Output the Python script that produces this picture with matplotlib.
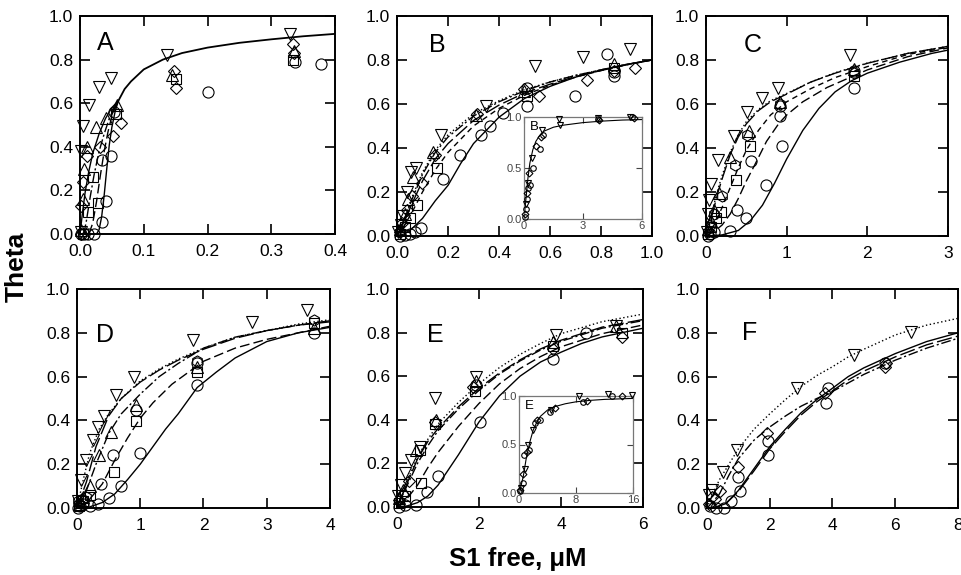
import matplotlib
matplotlib.use("Agg")
import matplotlib.pyplot as plt

plt.rcParams['font.family'] = ['Liberation Sans', 'DejaVu Sans']

# ---------------- panel A ----------------
A_circ = ([0.002, 0.006, 0.012, 0.022, 0.034, 0.040, 0.035, 0.048, 0.054, 0.201, 0.337, 0.378],
          [0.0, 0.0, 0.0, 0.0, 0.055, 0.15, 0.34, 0.36, 0.56, 0.652, 0.79, 0.78])
A_sq = ([0.004, 0.013, 0.028, 0.021, 0.057, 0.150, 0.334],
        [0.0, 0.10, 0.14, 0.26, 0.55, 0.71, 0.80])
A_dia = ([0.001, 0.002, 0.004, 0.011, 0.031, 0.052, 0.065, 0.148, 0.150, 0.334, 0.335],
         [0.0, 0.13, 0.24, 0.36, 0.40, 0.45, 0.51, 0.75, 0.67, 0.87, 0.83])
A_up = ([0.001, 0.004, 0.006, 0.011, 0.025, 0.041, 0.058, 0.145, 0.336],
        [0.02, 0.16, 0.30, 0.40, 0.49, 0.53, 0.59, 0.73, 0.84])
A_dn = ([0.001, 0.002, 0.005, 0.0145, 0.030, 0.048, 0.137, 0.329],
        [0.01, 0.38, 0.495, 0.59, 0.675, 0.717, 0.82, 0.916])

A_main = ([0.05, 0.06, 0.07, 0.08, 0.1, 0.13, 0.16, 0.2, 0.25, 0.3, 0.35, 0.4],
          [0.55, 0.61, 0.665, 0.70, 0.755, 0.80, 0.83, 0.855, 0.877, 0.893, 0.907, 0.918])
A_solid = ([0.026, 0.03, 0.034, 0.038, 0.042, 0.046, 0.05, 0.055, 0.06],
           [0.0, 0.02, 0.08, 0.18, 0.30, 0.41, 0.49, 0.56, 0.61])
A_dash = ([0.014, 0.02, 0.026, 0.032, 0.038, 0.044, 0.05, 0.056, 0.06],
          [0.0, 0.05, 0.15, 0.27, 0.38, 0.47, 0.54, 0.59, 0.61])
A_dashdot = ([0.006, 0.01, 0.016, 0.022, 0.03, 0.038, 0.046, 0.054, 0.06],
             [0.0, 0.06, 0.17, 0.27, 0.38, 0.46, 0.53, 0.58, 0.61])
A_left = ([0.0, 0.004, 0.008, 0.014, 0.02, 0.03, 0.04, 0.05, 0.06],
          [0.0, 0.10, 0.19, 0.29, 0.37, 0.46, 0.53, 0.58, 0.61])

# ---------------- panel B ----------------
B_circ = ([0.01, 0.03, 0.05, 0.07, 0.096, 0.18, 0.246, 0.33, 0.364, 0.417, 0.51, 0.51, 0.70, 0.823, 0.85, 0.85],
          [0.0, 0.005, 0.01, 0.02, 0.038, 0.258, 0.367, 0.46, 0.50, 0.56, 0.59, 0.674, 0.636, 0.826, 0.727, 0.745])
B_sq = ([0.01, 0.03, 0.05, 0.08, 0.155, 0.51, 0.85],
        [0.01, 0.04, 0.08, 0.14, 0.31, 0.636, 0.765])
B_dia = ([0.01, 0.02, 0.04, 0.06, 0.10, 0.148, 0.312, 0.50, 0.555, 0.745, 0.85, 0.935],
         [0.02, 0.06, 0.12, 0.18, 0.24, 0.37, 0.553, 0.67, 0.636, 0.71, 0.75, 0.765])
B_up = ([0.01, 0.03, 0.045, 0.063, 0.14, 0.31, 0.50, 0.85],
        [0.03, 0.10, 0.17, 0.27, 0.38, 0.55, 0.66, 0.78])
B_dn = ([0.005, 0.015, 0.024, 0.04, 0.056, 0.076, 0.174, 0.35, 0.54, 0.73, 0.915],
        [0.02, 0.05, 0.09, 0.20, 0.29, 0.31, 0.46, 0.59, 0.773, 0.815, 0.85])

B_x = [0, 0.03, 0.06, 0.1, 0.15, 0.2, 0.3, 0.4, 0.5, 0.6, 0.7, 0.8, 0.9, 1.0]
B_dotted = [0, 0.085, 0.18, 0.29, 0.39, 0.46, 0.555, 0.615, 0.665, 0.70, 0.73, 0.755, 0.78, 0.80]
B_dashdot = [0, 0.08, 0.17, 0.28, 0.38, 0.45, 0.545, 0.61, 0.66, 0.70, 0.73, 0.755, 0.78, 0.80]
B_longdash = [0, 0.07, 0.15, 0.25, 0.35, 0.42, 0.525, 0.595, 0.65, 0.69, 0.725, 0.752, 0.778, 0.80]
B_dash = [0, 0.05, 0.11, 0.2, 0.30, 0.38, 0.50, 0.58, 0.64, 0.685, 0.722, 0.752, 0.778, 0.80]
B_solid_x = [0, 0.03, 0.06, 0.1, 0.15, 0.2, 0.25, 0.3, 0.35, 0.4, 0.5, 0.6, 0.7, 0.8, 0.9, 1.0]
B_solid = [0, 0.01, 0.035, 0.08, 0.16, 0.23, 0.33, 0.42, 0.48, 0.54, 0.625, 0.68, 0.722, 0.755, 0.78, 0.80]

# inset of B
Bi_curve = ([0, 0.05, 0.1, 0.2, 0.3, 0.45, 0.6, 0.8, 1.0, 1.5, 2, 3, 4, 5, 6],
            [0, 0.1, 0.2, 0.4, 0.55, 0.68, 0.76, 0.82, 0.86, 0.9, 0.92, 0.945, 0.96, 0.97, 0.975])
Bi_circ = ([0.05, 0.1, 0.15, 0.2, 0.3, 0.47, 0.8, 0.95, 3.78, 5.5],
           [0.02, 0.1, 0.2, 0.3, 0.33, 0.5, 0.69, 0.82, 0.98, 1.0])
Bi_tri = ([0.1, 0.2, 0.4, 0.9, 1.77, 1.82, 3.78, 5.4],
          [0.15, 0.35, 0.6, 0.87, 0.98, 0.92, 0.99, 1.0])
Bi_dia = ([0.05, 0.15, 0.25, 0.6, 0.85, 3.8, 5.6],
          [0.05, 0.25, 0.45, 0.72, 0.8, 0.97, 0.99])

# ---------------- panel C ----------------
C_circ = ([0.02, 0.05, 0.1, 0.3, 0.38, 0.49, 0.56, 0.75, 0.92, 0.92, 0.94, 1.84, 1.84],
          [0.0, 0.01, 0.02, 0.023, 0.119, 0.08, 0.339, 0.233, 0.544, 0.59, 0.407, 0.673, 0.75])
C_sq = ([0.02, 0.06, 0.12, 0.185, 0.37, 0.55, 1.84],
        [0.01, 0.04, 0.08, 0.108, 0.255, 0.41, 0.726])
C_dia = ([0.02, 0.05, 0.1, 0.2, 0.36, 0.51, 0.92, 1.84],
         [0.02, 0.05, 0.10, 0.18, 0.324, 0.46, 0.60, 0.74])
C_up = ([0.02, 0.06, 0.1, 0.156, 0.3, 0.53, 0.92, 1.84],
        [0.03, 0.07, 0.12, 0.195, 0.36, 0.476, 0.61, 0.757])
C_dn = ([0.01, 0.02, 0.033, 0.062, 0.144, 0.35, 0.51, 0.69, 0.89, 1.79],
        [0.02, 0.1, 0.164, 0.236, 0.346, 0.456, 0.562, 0.628, 0.673, 0.825])

C_solid = ([0, 0.2, 0.4, 0.55, 0.7, 0.85, 1.0, 1.2, 1.4, 1.6, 1.8, 2.0, 2.4, 2.8, 3.0],
           [0, 0.005, 0.025, 0.07, 0.14, 0.24, 0.35, 0.48, 0.58, 0.655, 0.705, 0.74, 0.79, 0.83, 0.845])
C_dash = ([0, 0.1, 0.2, 0.3, 0.4, 0.5, 0.6, 0.75, 0.9, 1.0, 1.2, 1.5, 2.0, 2.5, 3.0],
          [0, 0.02, 0.05, 0.1, 0.17, 0.25, 0.32, 0.43, 0.51, 0.55, 0.61, 0.675, 0.755, 0.815, 0.855])
C_dash2 = ([0, 0.1, 0.2, 0.3, 0.4, 0.5, 0.65, 0.8, 1.0, 1.3, 1.6, 2.0, 2.5, 3.0],
           [0, 0.05, 0.13, 0.22, 0.31, 0.39, 0.48, 0.55, 0.61, 0.67, 0.72, 0.77, 0.825, 0.858])
C_up_x = [0, 0.05, 0.1, 0.15, 0.2, 0.3, 0.4, 0.5, 0.65, 0.8, 1.0, 1.3, 1.6, 2.0, 2.5, 3.0]
C_longdash = [0, 0.06, 0.13, 0.2, 0.26, 0.37, 0.45, 0.51, 0.57, 0.61, 0.645, 0.70, 0.74, 0.785, 0.83, 0.862]
C_dotted = [0, 0.07, 0.145, 0.215, 0.275, 0.38, 0.46, 0.52, 0.575, 0.615, 0.648, 0.70, 0.742, 0.786, 0.83, 0.862]

# ---------------- panel D ----------------
D_circ = ([0.02, 0.05, 0.1, 0.2, 0.33, 0.38, 0.51, 0.57, 0.69, 0.94, 1.0, 1.89, 1.89, 3.74],
          [0.0, 0.01, 0.02, 0.01, 0.02, 0.11, 0.046, 0.24, 0.1, 0.447, 0.25, 0.56, 0.66, 0.80])
D_sq = ([0.03, 0.1, 0.2, 0.58, 0.94, 1.89, 3.74],
        [0.01, 0.03, 0.06, 0.165, 0.398, 0.62, 0.843])
D_up = ([0.03, 0.1, 0.2, 0.34, 0.53, 0.93, 1.89, 3.74],
        [0.02, 0.05, 0.1, 0.24, 0.348, 0.47, 0.645, 0.82])
D_dia = ([0.02, 0.08, 0.15, 1.89, 3.74],
         [0.03, 0.04, 0.05, 0.67, 0.86])
D_dn = ([0.02, 0.07, 0.14, 0.25, 0.33, 0.42, 0.61, 0.9, 1.84, 2.76, 3.63],
        [0.03, 0.126, 0.22, 0.31, 0.37, 0.42, 0.515, 0.596, 0.767, 0.85, 0.904])

D_solid = ([0, 0.2, 0.4, 0.6, 0.8, 1.0, 1.2, 1.4, 1.6, 1.9, 2.2, 2.5, 3.0, 3.5, 4.0],
           [0, 0.005, 0.025, 0.065, 0.13, 0.2, 0.28, 0.36, 0.43, 0.55, 0.62, 0.685, 0.76, 0.80, 0.825])
D_dash = ([0, 0.2, 0.4, 0.6, 0.8, 1.0, 1.2, 1.5, 2.0, 2.5, 3.0, 3.5, 4.0],
          [0, 0.04, 0.11, 0.22, 0.32, 0.41, 0.48, 0.565, 0.67, 0.73, 0.77, 0.80, 0.83])
D_mid_x = [0, 0.15, 0.3, 0.5, 0.7, 1.0, 1.3, 1.6, 2.0, 2.5, 3.0, 3.5, 4.0]
D_dashdot = [0, 0.08, 0.2, 0.34, 0.43, 0.52, 0.60, 0.66, 0.73, 0.78, 0.81, 0.835, 0.85]
D_longdash = [0, 0.12, 0.28, 0.42, 0.50, 0.575, 0.63, 0.675, 0.725, 0.775, 0.81, 0.835, 0.855]
D_dotted = ([0, 0.1, 0.2, 0.35, 0.5, 0.7, 1.0, 1.3, 1.6, 2.0, 2.5, 3.0, 3.5, 4.0],
            [0, 0.13, 0.25, 0.36, 0.43, 0.50, 0.58, 0.635, 0.68, 0.73, 0.78, 0.81, 0.84, 0.86])

# ---------------- panel E ----------------
E_circ = ([0.05, 0.2, 0.47, 0.72, 1.0, 2.02, 1.93, 3.8, 4.62],
          [0.0, 0.01, 0.01, 0.067, 0.14, 0.39, 0.558, 0.68, 0.80])
E_sq = ([0.05, 0.2, 0.55, 0.59, 0.92, 1.9, 3.8, 5.5],
        [0.02, 0.05, 0.26, 0.11, 0.383, 0.53, 0.74, 0.80])
E_dia = ([0.05, 0.15, 0.3, 0.92, 1.85, 3.8, 5.5],
         [0.03, 0.06, 0.12, 0.39, 0.55, 0.726, 0.78])
E_up = ([0.05, 0.15, 0.47, 0.96, 1.93, 3.8, 5.35],
        [0.04, 0.08, 0.26, 0.40, 0.58, 0.756, 0.83])
E_dn = ([0.03, 0.1, 0.19, 0.35, 0.55, 0.92, 1.93, 3.89, 5.33],
        [0.05, 0.1, 0.155, 0.216, 0.277, 0.498, 0.597, 0.787, 0.83])

E_solid = ([0, 0.25, 0.5, 0.75, 1.0, 1.25, 1.5, 2.0, 2.5, 3.0, 3.5, 4.0, 4.5, 5.0, 5.5, 6.0],
           [0, 0.005, 0.02, 0.05, 0.1, 0.17, 0.24, 0.39, 0.51, 0.6, 0.665, 0.71, 0.75, 0.78, 0.80, 0.82])
E_x = [0, 0.25, 0.5, 0.75, 1.0, 1.5, 2.0, 2.5, 3.0, 3.5, 4.0, 5.0, 6.0]
E_dash = [0, 0.04, 0.1, 0.18, 0.25, 0.37, 0.475, 0.565, 0.635, 0.69, 0.735, 0.795, 0.835]
E_dashdot = [0, 0.1, 0.2, 0.28, 0.35, 0.45, 0.535, 0.61, 0.67, 0.72, 0.76, 0.82, 0.855]
E_longdash = [0, 0.11, 0.22, 0.30, 0.36, 0.46, 0.545, 0.615, 0.675, 0.725, 0.765, 0.825, 0.86]
E_dotted = [0, 0.12, 0.23, 0.31, 0.38, 0.48, 0.565, 0.64, 0.70, 0.75, 0.795, 0.85, 0.885]

# inset of E
Ei_curve = ([0, 0.3, 0.6, 1.0, 1.5, 2.0, 2.5, 3.0, 4.0, 5.0, 6.5, 8, 10, 12, 14, 16],
            [0, 0.08, 0.17, 0.35, 0.52, 0.65, 0.73, 0.79, 0.855, 0.89, 0.92, 0.94, 0.955, 0.965, 0.97, 0.975])
Ei_circ = ([0.2, 0.5, 0.7, 1.45, 2.24, 3.0, 4.35, 9.0, 13.0],
           [0.02, 0.1, 0.39, 0.445, 0.72, 0.75, 0.84, 0.94, 1.0])
Ei_tri = ([0.3, 0.8, 1.2, 2.0, 4.5, 8.45, 12.5, 15.8],
          [0.05, 0.25, 0.5, 0.65, 0.86, 1.0, 1.02, 1.01])
Ei_dia = ([0.1, 0.6, 1.1, 2.5, 5.0, 9.5, 14.5],
          [0.03, 0.2, 0.42, 0.75, 0.88, 0.95, 1.0])

# ---------------- panel F ----------------
F_circ = ([0.1, 0.3, 0.53, 0.76, 1.0, 1.04, 1.96, 1.96, 3.8, 3.86, 5.66],
          [0.01, 0.0, 0.0, 0.033, 0.14, 0.079, 0.243, 0.304, 0.479, 0.547, 0.661])
F_dia = ([0.05, 0.15, 0.25, 0.42, 0.98, 1.9, 3.76, 5.66, 5.7],
         [0.02, 0.05, 0.04, 0.076, 0.185, 0.342, 0.524, 0.646, 0.66])
F_dn = ([0.05, 0.16, 0.5, 0.95, 2.86, 4.7, 6.5],
        [0.06, 0.084, 0.163, 0.266, 0.547, 0.70, 0.805])

F_dotted = ([0, 0.2, 0.4, 0.7, 1.0, 1.5, 2.0, 2.5, 3.0, 3.5, 4.0, 4.5, 5.0, 6.0, 7.0, 8.0],
            [0, 0.07, 0.13, 0.2, 0.27, 0.36, 0.43, 0.495, 0.555, 0.605, 0.645, 0.69, 0.725, 0.79, 0.835, 0.866])
F_x = [0, 0.3, 0.6, 1.0, 1.5, 2.0, 2.5, 3.0, 3.5, 4.0, 4.5, 5.0, 6.0, 7.0, 8.0]
F_solid = [0, 0.005, 0.02, 0.08, 0.18, 0.28, 0.36, 0.435, 0.495, 0.547, 0.60, 0.64, 0.705, 0.76, 0.80]
F_dash = [0, 0.005, 0.02, 0.075, 0.17, 0.27, 0.35, 0.425, 0.485, 0.535, 0.585, 0.625, 0.69, 0.745, 0.785]
F_dashdot = ([0, 0.2, 0.4, 0.7, 1.0, 1.5, 2.0, 2.5, 3.0, 3.5, 4.0, 5.0, 6.0, 7.0, 8.0],
             [0, 0.03, 0.065, 0.15, 0.225, 0.31, 0.37, 0.42, 0.465, 0.50, 0.532, 0.61, 0.675, 0.73, 0.775])

# x ticks per panel
A_ticks = [0.0, 0.1, 0.2, 0.3, 0.4]
B_ticks = [0.0, 0.2, 0.4, 0.6, 0.8, 1.0]
C_ticks = [0, 1, 2, 3]
D_ticks = [0, 1, 2, 3, 4]
E_ticks = [0, 2, 4, 6]
F_ticks = [0, 2, 4, 6, 8]
y_ticks = [0.0, 0.2, 0.4, 0.6, 0.8, 1.0]

SOLID = '-'
DASH = (0, (7, 3))
SDASH = (0, (4, 3))
DASHDOT = (0, (7, 2, 1.5, 2))
DOTTED = (0, (1, 1.8))
LDASH = (0, (11, 3))

W, H = 962, 575
fig = plt.figure(figsize=(W / 100, H / 100), dpi=100)


def add_axes(l, t, r, b):
    return fig.add_axes([l / W, 1 - b / H, (r - l) / W, (b - t) / H])


def style(ax, xmax, xticks, fmt, letter, lx, ly):
    ax.set_xlim(0, xmax)
    ax.set_ylim(0, 1)
    ax.set_xticks(xticks)
    ax.set_xticklabels([fmt % v for v in xticks])
    ax.set_yticks(y_ticks)
    ax.set_yticklabels(['%.1f' % v for v in y_ticks])
    ax.tick_params(direction='in', length=7, width=1.2, top=True, right=True,
                   labelsize=12.5)
    ax.tick_params(axis='x', pad=7.5)
    ax.tick_params(axis='y', pad=5)
    for s in ax.spines.values():
        s.set_linewidth(1.4)
    ax.text(lx, ly, letter, transform=ax.transAxes, fontsize=18,
            ha='center', va='center')


def pts(ax, data, m, ms=8):
    ax.plot(data[0], data[1], ls='none', marker=m, ms=ms, mfc='none',
            mec='black', mew=0.8, clip_on=False, zorder=3)


def curve(ax, x, y, ls, lw=1.0):
    ax.plot(x, y, color='black', ls=ls, lw=lw, zorder=2)


def inset(l, t, r, b, xmax, xticks, letter, c, tri, dia):
    axi = add_axes(l, t, r, b)
    axi.plot(c[0], c[1], color='black', lw=0.8)
    pts(axi, tri[0], 'o', 4)
    pts(axi, tri[1], 'v', 4)
    pts(axi, dia, 'D', 3.5)
    axi.set_xlim(0, xmax); axi.set_ylim(0, 1)
    axi.set_xticks(xticks); axi.set_yticks([0.0, 0.5, 1.0])
    axi.set_yticklabels(['0.0', '0.5', '1.0'])
    axi.tick_params(direction='in', length=4, width=0.8, top=True, right=True,
                    labelsize=8, pad=1.5, colors='#444444')
    for s in axi.spines.values():
        s.set_color('#777777'); s.set_linewidth(0.9)
    axi.text(0.05, 0.9, letter, transform=axi.transAxes, fontsize=9.5, va='center')


# A
ax = add_axes(80, 16, 335, 234)
curve(ax, A_main[0], A_main[1], SOLID, 1.3)
curve(ax, A_solid[0], A_solid[1], SOLID)
curve(ax, A_dash[0], A_dash[1], DASH)
curve(ax, A_dashdot[0], A_dashdot[1], DASHDOT)
curve(ax, A_left[0], A_left[1], SOLID)
pts(ax, A_circ, 'o'); pts(ax, A_sq, 's', 7); pts(ax, A_dia, 'D', 6.5)
pts(ax, A_up, '^'); pts(ax, A_dn, 'v')
style(ax, 0.4, A_ticks, '%.1f', 'A', 0.10, 0.875)

# B
ax = add_axes(397, 16, 652, 236)
curve(ax, B_x, B_dotted, DOTTED)
curve(ax, B_x, B_dashdot, DASHDOT)
curve(ax, B_x, B_longdash, LDASH)
curve(ax, B_x, B_dash, SDASH)
curve(ax, B_solid_x, B_solid, SOLID)
pts(ax, B_circ, 'o'); pts(ax, B_sq, 's', 7); pts(ax, B_dia, 'D', 6.5)
pts(ax, B_up, '^'); pts(ax, B_dn, 'v')
style(ax, 1.0, B_ticks, '%.1f', 'B', 0.157, 0.87)
inset(524, 117, 642, 219, 6, [0, 3, 6], 'B', Bi_curve, (Bi_circ, Bi_tri), Bi_dia)

# C
ax = add_axes(706, 16, 948, 236)
curve(ax, C_up_x, C_dotted, DOTTED)
curve(ax, C_up_x, C_longdash, LDASH)
curve(ax, C_dash2[0], C_dash2[1], SDASH)
curve(ax, C_dash[0], C_dash[1], DASH)
curve(ax, C_solid[0], C_solid[1], SOLID)
pts(ax, C_circ, 'o'); pts(ax, C_sq, 's', 7); pts(ax, C_dia, 'h', 8)
pts(ax, C_up, '^'); pts(ax, C_dn, 'v')
style(ax, 3, C_ticks, '%d', 'C', 0.195, 0.87)

# D
ax = add_axes(77, 289, 330, 508)
curve(ax, D_dotted[0], D_dotted[1], DOTTED)
curve(ax, D_mid_x, D_longdash, LDASH)
curve(ax, D_mid_x, D_dashdot, DASHDOT)
curve(ax, D_dash[0], D_dash[1], DASH)
curve(ax, D_solid[0], D_solid[1], SOLID)
pts(ax, D_circ, 'o'); pts(ax, D_sq, 's', 7); pts(ax, D_dia, 'h', 8)
pts(ax, D_up, '^'); pts(ax, D_dn, 'v')
style(ax, 4, D_ticks, '%d', 'D', 0.11, 0.79)

# E
ax = add_axes(397, 289, 643, 507)
curve(ax, E_x, E_dotted, DOTTED)
curve(ax, E_x, E_longdash, LDASH)
curve(ax, E_x, E_dashdot, DASHDOT)
curve(ax, E_x, E_dash, DASH)
curve(ax, E_solid[0], E_solid[1], SOLID)
pts(ax, E_circ, 'o'); pts(ax, E_sq, 's', 7); pts(ax, E_dia, 'D', 6.5)
pts(ax, E_up, '^'); pts(ax, E_dn, 'v')
style(ax, 6, E_ticks, '%d', 'E', 0.155, 0.79)
inset(519, 396, 633, 493, 16, [0, 8, 16], 'E', Ei_curve, (Ei_circ, Ei_tri), Ei_dia)

# F
ax = add_axes(707, 289, 958, 508)
curve(ax, F_dotted[0], F_dotted[1], DOTTED)
curve(ax, F_dashdot[0], F_dashdot[1], DASHDOT)
curve(ax, F_x, F_dash, LDASH)
curve(ax, F_x, F_solid, SOLID)
pts(ax, F_circ, 'o'); pts(ax, F_dia, 'D', 6.5); pts(ax, F_dn, 'v')
style(ax, 8, F_ticks, '%d', 'F', 0.17, 0.8)

fig.text(17 / W, 1 - 267 / H, 'Theta', rotation=90, fontsize=19,
         fontweight='bold', ha='center', va='center')
fig.text(518 / W, 1 - 559 / H, 'S1 free, \u03bcM', fontsize=18.5,
         fontweight='bold', ha='center', va='center')

fig.savefig('out.png', dpi=100)
